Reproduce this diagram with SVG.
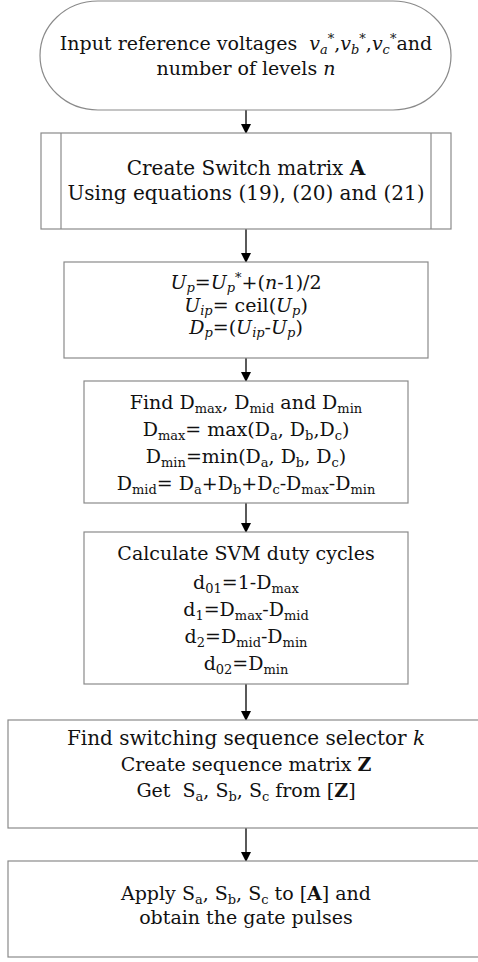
<svg xmlns="http://www.w3.org/2000/svg" width="478" height="962" viewBox="0 0 478 962">
<style>
  .box{fill:#fff;stroke:#8a8a8a;stroke-width:1.2}
  .t{font-family:"DejaVu Serif","Liberation Serif",serif;font-size:19px;fill:#111;text-anchor:middle}
  .l{font-size:20px}
  .i{font-style:italic}
  .b{font-weight:bold}
  .s{font-size:13px}
  .conn line{stroke:#000;stroke-width:1.3;marker-end:url(#ah)}
</style>
<defs>
  <marker id="ah" markerWidth="10" markerHeight="12" refX="9" refY="5" orient="auto" markerUnits="userSpaceOnUse">
    <path d="M0,0 L10,5 L0,10 Z" fill="#000"/>
  </marker>
</defs>
<rect width="478" height="962" fill="#fff"/>
<g id="connectors" class="conn">
  <line x1="246" y1="110" x2="246" y2="133"/>
  <line x1="246" y1="229" x2="246" y2="262"/>
  <line x1="246" y1="358" x2="246" y2="381"/>
  <line x1="246" y1="503" x2="246" y2="532"/>
  <line x1="246" y1="684" x2="246" y2="720"/>
  <line x1="246" y1="828" x2="246" y2="861"/>
</g>
<g id="start">
  <rect class="box" x="40" y="1" width="411" height="109" rx="58" ry="54.5"/>
  <text class="t" x="246" y="50" font-size="19.6">Input reference voltages&#160; <tspan class="i">v</tspan><tspan class="i s" dy="4">a</tspan><tspan class="s" dy="-11">*</tspan><tspan dy="7">,</tspan><tspan class="i">v</tspan><tspan class="i s" dy="4">b</tspan><tspan class="s" dy="-11">*</tspan><tspan dy="7">,</tspan><tspan class="i">v</tspan><tspan class="i s" dy="4">c</tspan><tspan class="s" dy="-11">*</tspan><tspan dy="7">and</tspan></text>
  <text class="t" x="246" y="75" font-size="19.6">number of levels <tspan class="i">n</tspan></text>
</g>
<g id="switch-matrix">
  <rect class="box" x="41" y="133" width="410" height="96"/>
  <line x1="61" y1="133" x2="61" y2="229" stroke="#8a8a8a" stroke-width="1.2"/>
  <line x1="431" y1="133" x2="431" y2="229" stroke="#8a8a8a" stroke-width="1.2"/>
  <text class="t l" x="246" y="175">Create Switch matrix <tspan class="b">A</tspan></text>
  <text class="t l" x="246" y="200">Using equations (19), (20) and (21)</text>
</g>
<g id="up">
  <rect class="box" x="64" y="262" width="364" height="96"/>
  <text class="t" x="246" y="289"><tspan class="i">U</tspan><tspan class="i s" dy="3">p</tspan><tspan dy="-3">=</tspan><tspan class="i">U</tspan><tspan class="i s" dy="3">p</tspan><tspan class="s" dy="-10">*</tspan><tspan dy="7">+(</tspan><tspan class="i">n</tspan>-1)/2</text>
  <text class="t" x="246" y="312"><tspan class="i">U</tspan><tspan class="i s" dy="3">ip</tspan><tspan dy="-3">= ceil(</tspan><tspan class="i">U</tspan><tspan class="i s" dy="3">p</tspan><tspan dy="-3">)</tspan></text>
  <text class="t" x="246" y="334"><tspan class="i">D</tspan><tspan class="i s" dy="3">p</tspan><tspan dy="-3">=(</tspan><tspan class="i">U</tspan><tspan class="i s" dy="3">ip</tspan><tspan dy="-3">-</tspan><tspan class="i">U</tspan><tspan class="i s" dy="3">p</tspan><tspan dy="-3">)</tspan></text>
</g>
<g id="find-d">
  <rect class="box" x="84" y="381" width="324" height="122"/>
  <text class="t" x="246" y="409">Find D<tspan class="s" dy="4">max</tspan><tspan dy="-4">, D</tspan><tspan class="s" dy="4">mid</tspan><tspan dy="-4"> and D</tspan><tspan class="s" dy="4">min</tspan></text>
  <text class="t" x="246" y="436">D<tspan class="s" dy="4">max</tspan><tspan dy="-4">= max(D</tspan><tspan class="s" dy="4">a</tspan><tspan dy="-4">, D</tspan><tspan class="s" dy="4">b</tspan><tspan dy="-4">,D</tspan><tspan class="s" dy="4">c</tspan><tspan dy="-4">)</tspan></text>
  <text class="t" x="246" y="463">D<tspan class="s" dy="4">min</tspan><tspan dy="-4">=min(D</tspan><tspan class="s" dy="4">a</tspan><tspan dy="-4">, D</tspan><tspan class="s" dy="4">b</tspan><tspan dy="-4">, D</tspan><tspan class="s" dy="4">c</tspan><tspan dy="-4">)</tspan></text>
  <text class="t" x="246" y="490">D<tspan class="s" dy="4">mid</tspan><tspan dy="-4">= D</tspan><tspan class="s" dy="4">a</tspan><tspan dy="-4">+D</tspan><tspan class="s" dy="4">b</tspan><tspan dy="-4">+D</tspan><tspan class="s" dy="4">c</tspan><tspan dy="-4">-D</tspan><tspan class="s" dy="4">max</tspan><tspan dy="-4">-D</tspan><tspan class="s" dy="4">min</tspan></text>
</g>
<g id="duty">
  <rect class="box" x="84" y="532" width="324" height="152"/>
  <text class="t" x="246" y="560">Calculate SVM duty cycles</text>
  <text class="t" x="246" y="589">d<tspan class="s" dy="4">01</tspan><tspan dy="-4">=1-D</tspan><tspan class="s" dy="4">max</tspan></text>
  <text class="t" x="246" y="616">d<tspan class="s" dy="4">1</tspan><tspan dy="-4">=D</tspan><tspan class="s" dy="4">max</tspan><tspan dy="-4">-D</tspan><tspan class="s" dy="4">mid</tspan></text>
  <text class="t" x="246" y="643">d<tspan class="s" dy="4">2</tspan><tspan dy="-4">=D</tspan><tspan class="s" dy="4">mid</tspan><tspan dy="-4">-D</tspan><tspan class="s" dy="4">min</tspan></text>
  <text class="t" x="246" y="670">d<tspan class="s" dy="4">02</tspan><tspan dy="-4">=D</tspan><tspan class="s" dy="4">min</tspan></text>
</g>
<g id="sequence">
  <rect class="box" x="8" y="720" width="480" height="108"/>
  <text class="t l" x="246" y="745">Find switching sequence selector <tspan class="i">k</tspan></text>
  <text class="t" x="246" y="771">Create sequence matrix <tspan class="b">Z</tspan></text>
  <text class="t" x="246" y="797">Get&#160; S<tspan class="s" dy="4">a</tspan><tspan dy="-4">, S</tspan><tspan class="s" dy="4">b</tspan><tspan dy="-4">, S</tspan><tspan class="s" dy="4">c</tspan><tspan dy="-4"> from [</tspan><tspan class="b">Z</tspan>]</text>
</g>
<g id="gate">
  <rect class="box" x="8" y="861" width="480" height="96"/>
  <text class="t" x="246" y="900">Apply S<tspan class="s" dy="4">a</tspan><tspan dy="-4">, S</tspan><tspan class="s" dy="4">b</tspan><tspan dy="-4">, S</tspan><tspan class="s" dy="4">c</tspan><tspan dy="-4"> to [</tspan><tspan class="b">A</tspan>] and</text>
  <text class="t" x="246" y="924">obtain the gate pulses</text>
</g>
</svg>
